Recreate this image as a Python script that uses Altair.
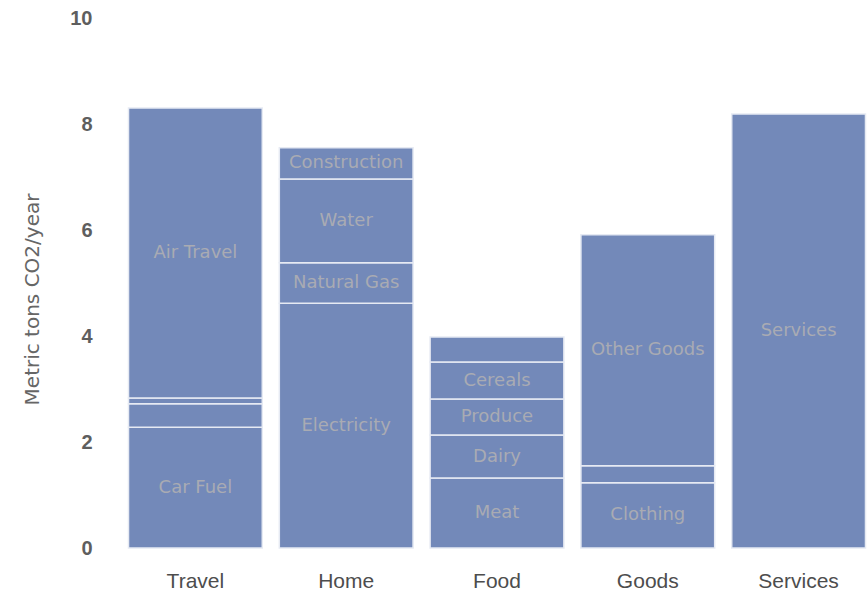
import altair as alt
import pandas as pd

categories = ["Travel", "Travel", "Travel", "Travel",
              "Home", "Home", "Home", "Home",
              "Food", "Food", "Food", "Food", "Food",
              "Goods", "Goods", "Goods",
              "Services"]
segments = ["Car Fuel", "", "", "Air Travel",
            "Electricity", "Natural Gas", "Water", "Construction",
            "Meat", "Dairy", "Produce", "Cereals", "",
            "Clothing", "", "Other Goods",
            "Services"]
values = [2.28, 0.44, 0.11, 5.47,
          4.62, 0.76, 1.58, 0.59,
          1.32, 0.81, 0.68, 0.70, 0.47,
          1.23, 0.32, 4.36,
          8.19]
order = list(range(len(values)))
cat_order = ["Travel", "Home", "Food", "Goods", "Services"]

df = pd.DataFrame({"category": categories, "segment": segments,
                   "value": values, "idx": order})

base = alt.Chart(df).transform_stack(
    stack="value", groupby=["category"], sort=[alt.SortField("idx")], as_=["y0", "y1"]
).transform_calculate(mid="(datum.y0 + datum.y1) / 2")

x_enc = alt.X("category:N", sort=cat_order, title=None,
              scale=alt.Scale(paddingInner=0.113, paddingOuter=0.01),
              axis=alt.Axis(labelAngle=0, domain=False, ticks=False, labelPadding=22,
                            labelFontSize=21, labelColor="#4d4d4d",
                            labelFont="Liberation Sans", labelFontWeight="normal"))

bars = base.mark_bar(color="#7389b9", stroke="#e6eaf3", strokeWidth=1.5).encode(
    x=x_enc,
    y=alt.Y("y0:Q", title="Metric tons CO2/year",
            scale=alt.Scale(domain=[0, 10]),
            axis=alt.Axis(values=[0, 2, 4, 6, 8, 10], domain=False, ticks=False, grid=False,
                          labelPadding=35, labelFontSize=20, labelColor="#5e5e5e",
                          labelFont="Liberation Sans", labelFontWeight="bold",
                          titleFontSize=20, titleColor="#666666", titleFont="DejaVu Sans",
                          titleFontWeight="normal", titlePadding=27, titleY=281)),
    y2="y1:Q",
)

labels = base.mark_text(color="#a9abb3", fontSize=18, font="DejaVu Sans",
                        baseline="middle").encode(
    x=alt.X("category:N", sort=cat_order),
    y=alt.Y("mid:Q"),
    text="segment:N",
)

chart = alt.layer(bars, labels).properties(
    width=740, height=530,
    padding={"left": 127, "top": 18, "right": 0, "bottom": 42},
    autosize=alt.AutoSizeParams(type="none"),
).configure_view(stroke=None).configure_axis(grid=False)

chart.save("out.html", embed_options={"renderer": "svg", "actions": False})
